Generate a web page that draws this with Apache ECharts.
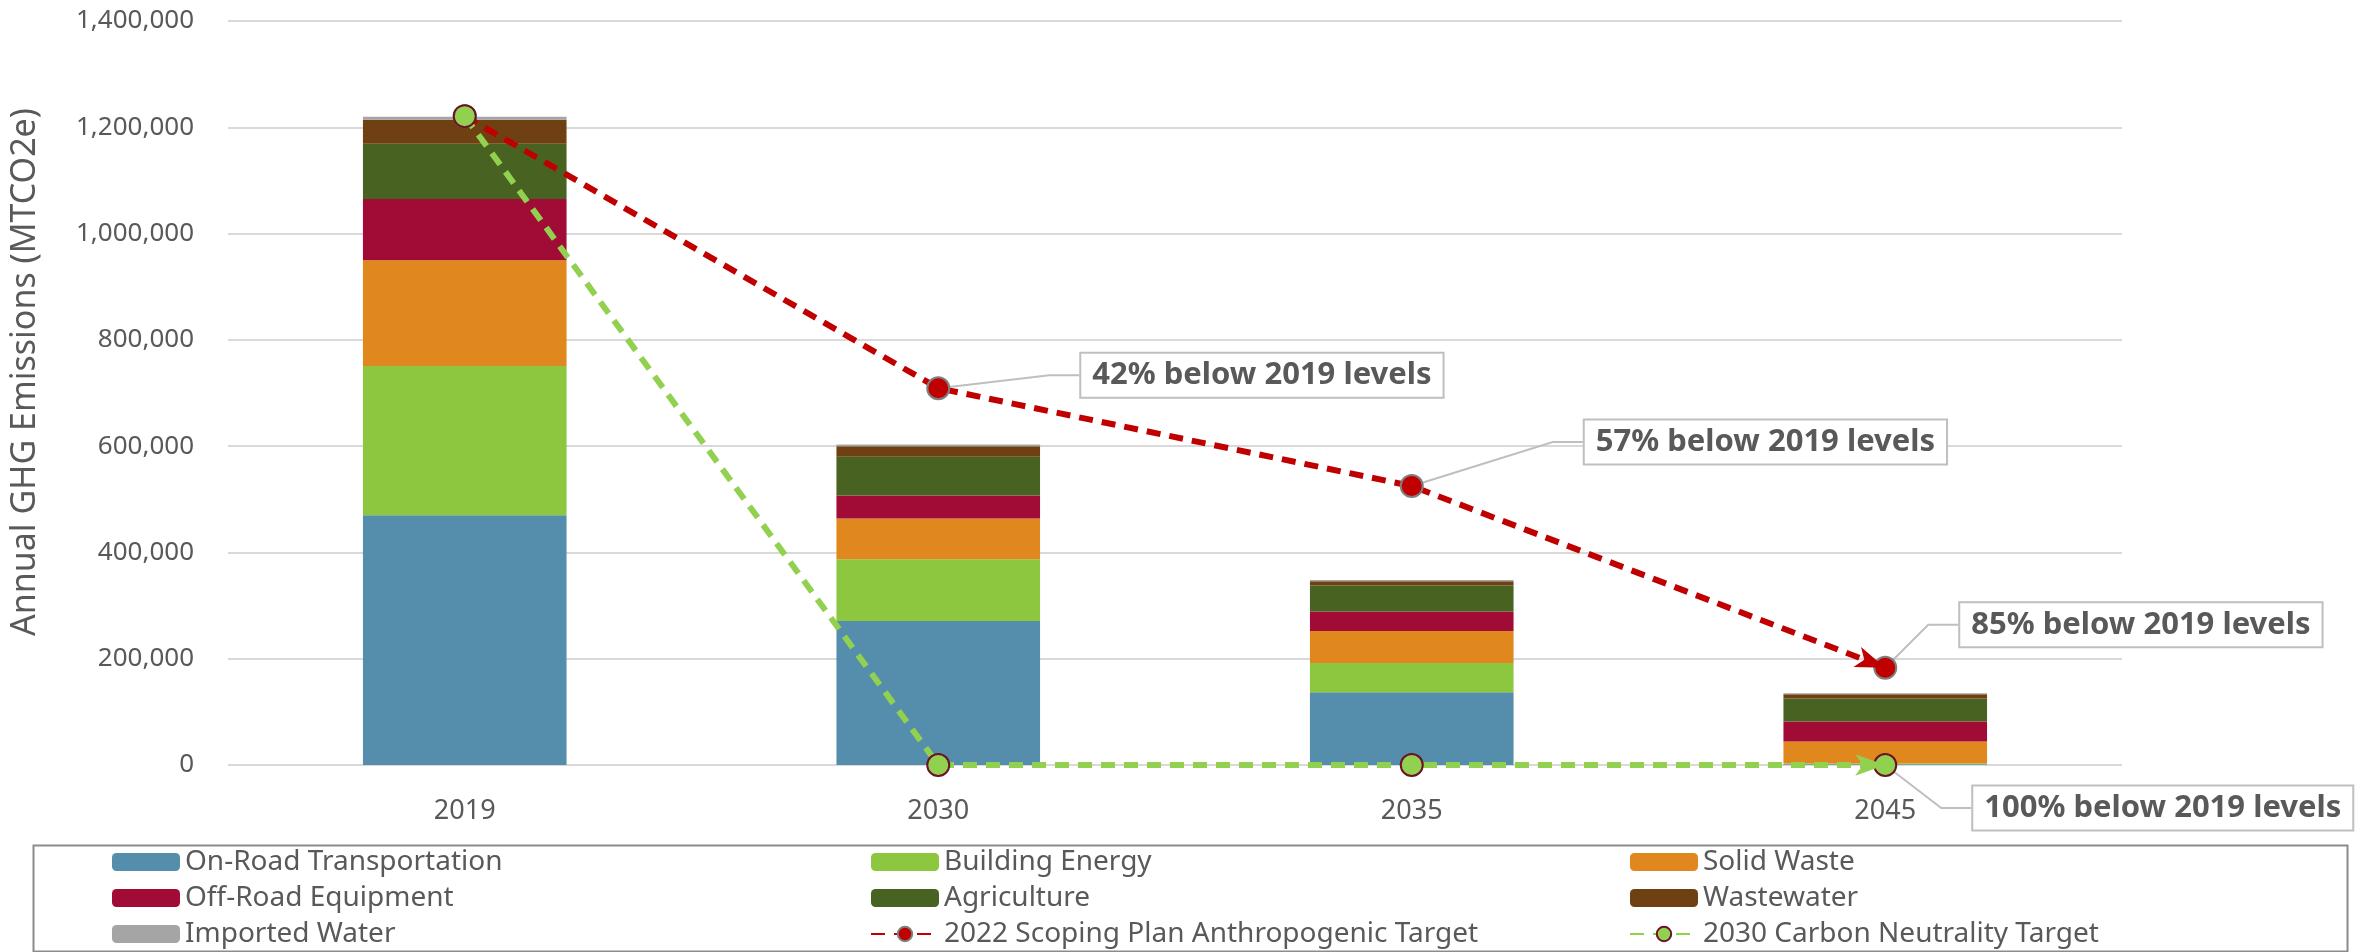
<!DOCTYPE html>
<html>
<head>
<meta charset="utf-8">
<title>Annual GHG Emissions</title>
<script src="https://cdn.jsdelivr.net/npm/echarts@6/dist/echarts.min.js"></script>
<style>
  html, body { margin: 0; padding: 0; background: #fff; }
  #main { width: 2369px; height: 952px; }
</style>
</head>
<body>
<div id="main"></div>
<script>
// data (MTCO2e)
var years = ['2019', '2030', '2035', '2045'];
var onRoad = [470000, 271000, 137000, 1500];
var buildingEnergy = [281000, 116000, 55000, 1500];
var solidWaste = [199000, 77000, 60000, 41000];
var offRoad = [115000, 43000, 37000, 38000];
var agriculture = [104000, 73000, 49000, 43000];
var wastewater = [45000, 20000, 8000, 8000];
var importedWater = [6000, 3000, 2000, 2000];
var scopingTarget = [1221000, 709000, 525000, 183000];
var neutralityTarget = [1221000, 0, 0, 0];
var scopingNotes = ['', '42% below 2019 levels', '57% below 2019 levels', '85% below 2019 levels'];
var neutralityNotes = ['', '', '', '100% below 2019 levels'];

// where the note boxes sit relative to their points
var scopingShift = [[0, 0], [126, -13], [156, -44], [58, -43]];
var neutralityShift = [[0, 0], [0, 0], [0, 0], [71, 43]];

var font = 'Noto Sans';
var grey = '#595959';

var myChart = echarts.init(document.getElementById('main'));

function barSeries(name, values, color) {
  return {
    name: name,
    type: 'bar',
    stack: 'total',
    barWidth: '43%',
    data: values,
    itemStyle: { color: color }
  };
}

function noteData(values, notes) {
  return values.map(function (v, i) {
    if (!notes[i]) return v;
    return { value: v, label: { show: true, formatter: notes[i] } };
  });
}

var noteLabel = {
  show: false,
  position: 'right',
  distance: 5,
  fontFamily: font,
  fontSize: 31,
  fontWeight: 'bold',
  color: grey,
  backgroundColor: '#fff',
  borderColor: '#BFBFBF',
  borderWidth: 2,
  padding: [7, 11, 5, 11]
};
var noteLine = { show: true, length2: 30, lineStyle: { color: '#BFBFBF', width: 2 } };

function arrowTo(values) {
  return {
    silent: true,
    symbol: ['none', 'arrow'],
    symbolSize: [16, 30],
    lineStyle: { width: 0 },
    label: { show: false },
    data: [[{ coord: [years[2], values[2]] }, { coord: [years[3], values[3]] }]]
  };
}

var legendText = { fontFamily: font, fontSize: 28, color: grey };
function legendCol(left, names) {
  return {
    orient: 'vertical',
    left: left,
    top: 848,
    padding: 0,
    itemWidth: 68,
    itemHeight: 18,
    itemGap: 8,
    textStyle: legendText,
    data: names
  };
}

var option = {
  animation: false,
  textStyle: { fontFamily: font },
  grid: { left: 222, right: 247, top: 21, bottom: 187 },
  legend: [
    legendCol(112, ['On-Road Transportation', 'Off-Road Equipment', 'Imported Water']),
    legendCol(870, ['Building Energy', 'Agriculture', '2022 Scoping Plan Anthropogenic Target']),
    legendCol(1629, ['Solid Waste', 'Wastewater', '2030 Carbon Neutrality Target'])
  ],
  graphic: [{
    type: 'rect',
    left: 31,
    top: 843,
    shape: { width: 2314, height: 106 },
    style: { fill: 'none', stroke: '#8C8C8C', lineWidth: 2 },
    silent: true
  }],
  xAxis: {
    type: 'category',
    data: years,
    axisLine: { show: false },
    axisTick: { show: false },
    axisLabel: { color: grey, fontSize: 27, margin: 33 }
  },
  yAxis: {
    type: 'value',
    min: 0,
    max: 1400000,
    interval: 200000,
    name: 'Annual GHG Emissions (MTCO2e)',
    nameLocation: 'middle',
    nameGap: 186,
    nameTextStyle: { color: grey, fontSize: 34, padding: [0, 0, 0, 42] },
    axisLabel: {
      color: grey,
      fontSize: 26,
      margin: 34,
      formatter: function (v) { return v.toLocaleString('en-US'); }
    },
    splitLine: { lineStyle: { color: '#D9D9D9', width: 2 } }
  },
  series: [
    barSeries('On-Road Transportation', onRoad, '#558DAD'),
    barSeries('Building Energy', buildingEnergy, '#8DC63F'),
    barSeries('Solid Waste', solidWaste, '#E0881E'),
    barSeries('Off-Road Equipment', offRoad, '#A00C36'),
    barSeries('Agriculture', agriculture, '#486321'),
    barSeries('Wastewater', wastewater, '#6E4012'),
    barSeries('Imported Water', importedWater, '#A5A5A5'),
    {
      name: '2022 Scoping Plan Anthropogenic Target',
      type: 'line',
      data: noteData(scopingTarget, scopingNotes),
      symbol: 'circle',
      symbolSize: 22,
      itemStyle: { color: '#C00000', borderColor: '#7F7F7F', borderWidth: 2 },
      lineStyle: { color: '#C00000', width: 6, type: [14, 9] },
      label: noteLabel,
      labelLine: noteLine,
      labelLayout: function (p) {
        var s = scopingShift[p.dataIndex];
        return { dx: s[0], dy: s[1] };
      },
      markLine: arrowTo(scopingTarget),
      z: 3
    },
    {
      name: '2030 Carbon Neutrality Target',
      type: 'line',
      data: noteData(neutralityTarget, neutralityNotes),
      symbol: 'circle',
      symbolSize: 22,
      itemStyle: { color: '#92D050', borderColor: '#6B1227', borderWidth: 2 },
      lineStyle: { color: '#92D050', width: 6, type: [14, 9] },
      label: noteLabel,
      labelLine: noteLine,
      labelLayout: function (p) {
        var s = neutralityShift[p.dataIndex];
        return { dx: s[0], dy: s[1] };
      },
      markLine: arrowTo(neutralityTarget),
      z: 4
    }
  ]
};

myChart.setOption(option);
</script>
</body>
</html>
